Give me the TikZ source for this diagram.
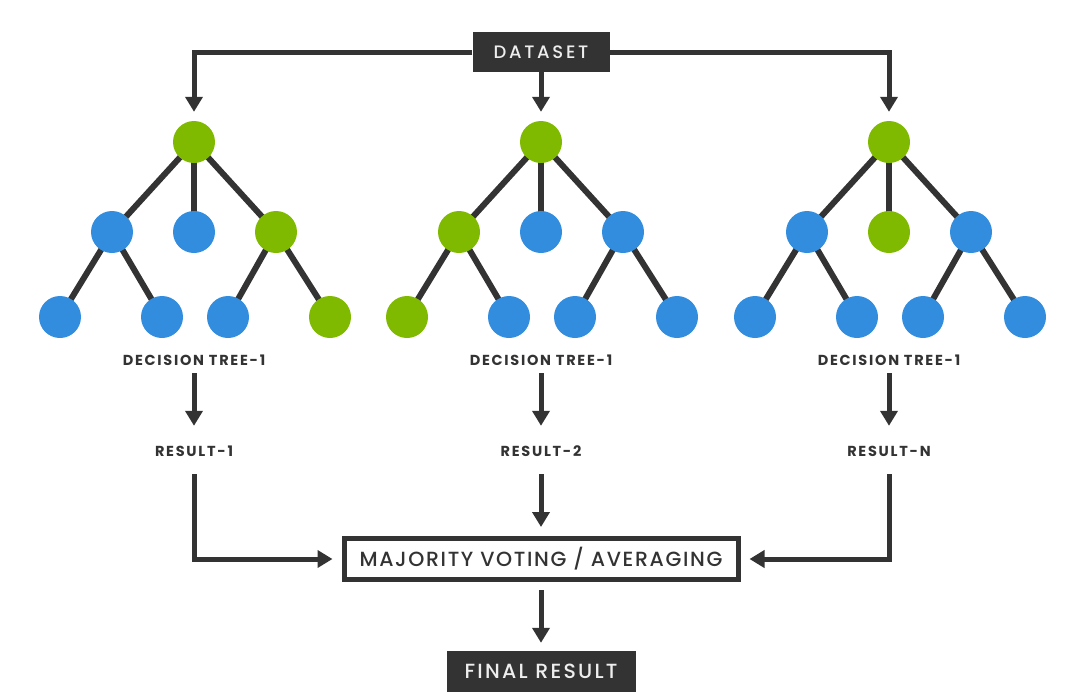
\documentclass[tikz,border=0pt]{standalone}
\usepackage{fontspec}
\setmainfont{Poppins}
\newfontfamily\labelfont{Poppins}[LetterSpace=12]
\newfontfamily\dsfont{Poppins Medium}[LetterSpace=15]
\newfontfamily\majfont{Poppins Medium}[LetterSpace=8]
\newfontfamily\finfont{Poppins Medium}[LetterSpace=11]
\usetikzlibrary{arrows.meta,backgrounds}

\definecolor{ink}{HTML}{333333}
\definecolor{leafgreen}{HTML}{7FBA00}
\definecolor{leafblue}{HTML}{328DDE}
\definecolor{boxtext}{HTML}{EEEEEE}

% one decision tree: name, x of the root, colours of the 3 inner and 4 leaf nodes
\newcommand\decisiontree[9]{%
  \begin{scope}[shift={(#2,0)}]
    \node[gnode] (#1r) at (0,142) {};
    \node[#3] (#1a) at (-82,232) {};
    \node[#4] (#1b) at (0,232) {};
    \node[#5] (#1c) at (82,232) {};
    \node[#6] (#1d) at (-134,317) {};
    \node[#7] (#1e) at (-32,317) {};
    \node[#8] (#1f) at (34,317) {};
    \node[#9] (#1g) at (136,317) {};
  \end{scope}
  \begin{pgfonlayer}{background}
    \draw[branch] (#1r.center) -- (#1a.center);
    \draw[branch] (#1r.center) -- (#1b.center);
    \draw[branch] (#1r.center) -- (#1c.center);
    \draw[branch] (#1a.center) -- (#1d.center);
    \draw[branch] (#1a.center) -- (#1e.center);
    \draw[branch] (#1c.center) -- (#1f.center);
    \draw[branch] (#1c.center) -- (#1g.center);
  \end{pgfonlayer}%
}

\begin{document}
\begin{tikzpicture}[x=1pt,y=-1pt,
  gnode/.style={circle, fill=leafgreen, minimum size=42pt, inner sep=0pt},
  bnode/.style={circle, fill=leafblue, minimum size=42pt, inner sep=0pt},
  branch/.style={line width=6pt, draw=ink},
  arr/.style={line width=5pt, draw=ink, -{Triangle[width=17pt,length=15pt]}},
  darkbox/.style={fill=ink, text=boxtext, inner sep=0pt},
  lbl/.style={font=\labelfont\bfseries\fontsize{14.5}{14.5}\selectfont, text=ink,
    inner sep=0pt, text height=10pt, text depth=0pt},
]
\useasboundingbox (0,0) rectangle (1080,697);

% dataset source
\node[darkbox, minimum width=137pt, minimum height=40pt,
  font=\dsfont\fontsize{18}{18}\selectfont] (ds) at (541,52) {DATASET};

% the three trees
\decisiontree{ta}{194}{bnode}{bnode}{gnode}{bnode}{bnode}{bnode}{gnode}
\decisiontree{tb}{541}{gnode}{bnode}{bnode}{gnode}{bnode}{bnode}{bnode}
\decisiontree{tc}{889}{bnode}{gnode}{bnode}{bnode}{bnode}{bnode}{bnode}

% dataset feeds each tree
\draw[arr, shorten >=9pt] (ds.west) -| (tar.north);
\draw[arr, shorten >=9pt] (ds.south) -- (tbr.north);
\draw[arr, shorten >=9pt] (ds.east) -| (tcr.north);

% tree labels and results
\node[lbl] (dta) at (194,360) {DECISION TREE-1};
\node[lbl] (dtb) at (541,360) {DECISION TREE-1};
\node[lbl] (dtc) at (889,360) {DECISION TREE-1};
\node[lbl] (ra) at (194,451) {RESULT-1};
\node[lbl] (rb) at (541,451) {RESULT-2};
\node[lbl] (rc) at (889,451) {RESULT-N};

\foreach \t/\r in {dta/ra, dtb/rb, dtc/rc}
  \draw[arr, shorten <=8pt, shorten >=20pt] (\t.south) -- (\r.north);

% aggregation
\node[draw=ink, line width=5pt, fill=white, text=ink, inner sep=0pt,
  minimum width=394pt, minimum height=41pt,
  font=\majfont\fontsize{20.5}{20.5}\selectfont] (maj) at (541,559) {MAJORITY VOTING / AVERAGING};

\draw[arr, shorten <=18pt, shorten >=9pt] (ra.south) |- (maj.west);
\draw[arr, shorten <=18pt, shorten >=9pt] (rb.south) -- (maj.north);
\draw[arr, shorten <=18pt, shorten >=9pt] (rc.south) |- (maj.east);

\node[darkbox, minimum width=189pt, minimum height=41pt,
  font=\finfont\fontsize{20.5}{20.5}\selectfont] (fin) at (541,671.5) {FINAL RESULT};
\draw[arr, shorten <=8pt, shorten >=8pt] (maj.south) -- (fin.north);
\end{tikzpicture}
\end{document}
